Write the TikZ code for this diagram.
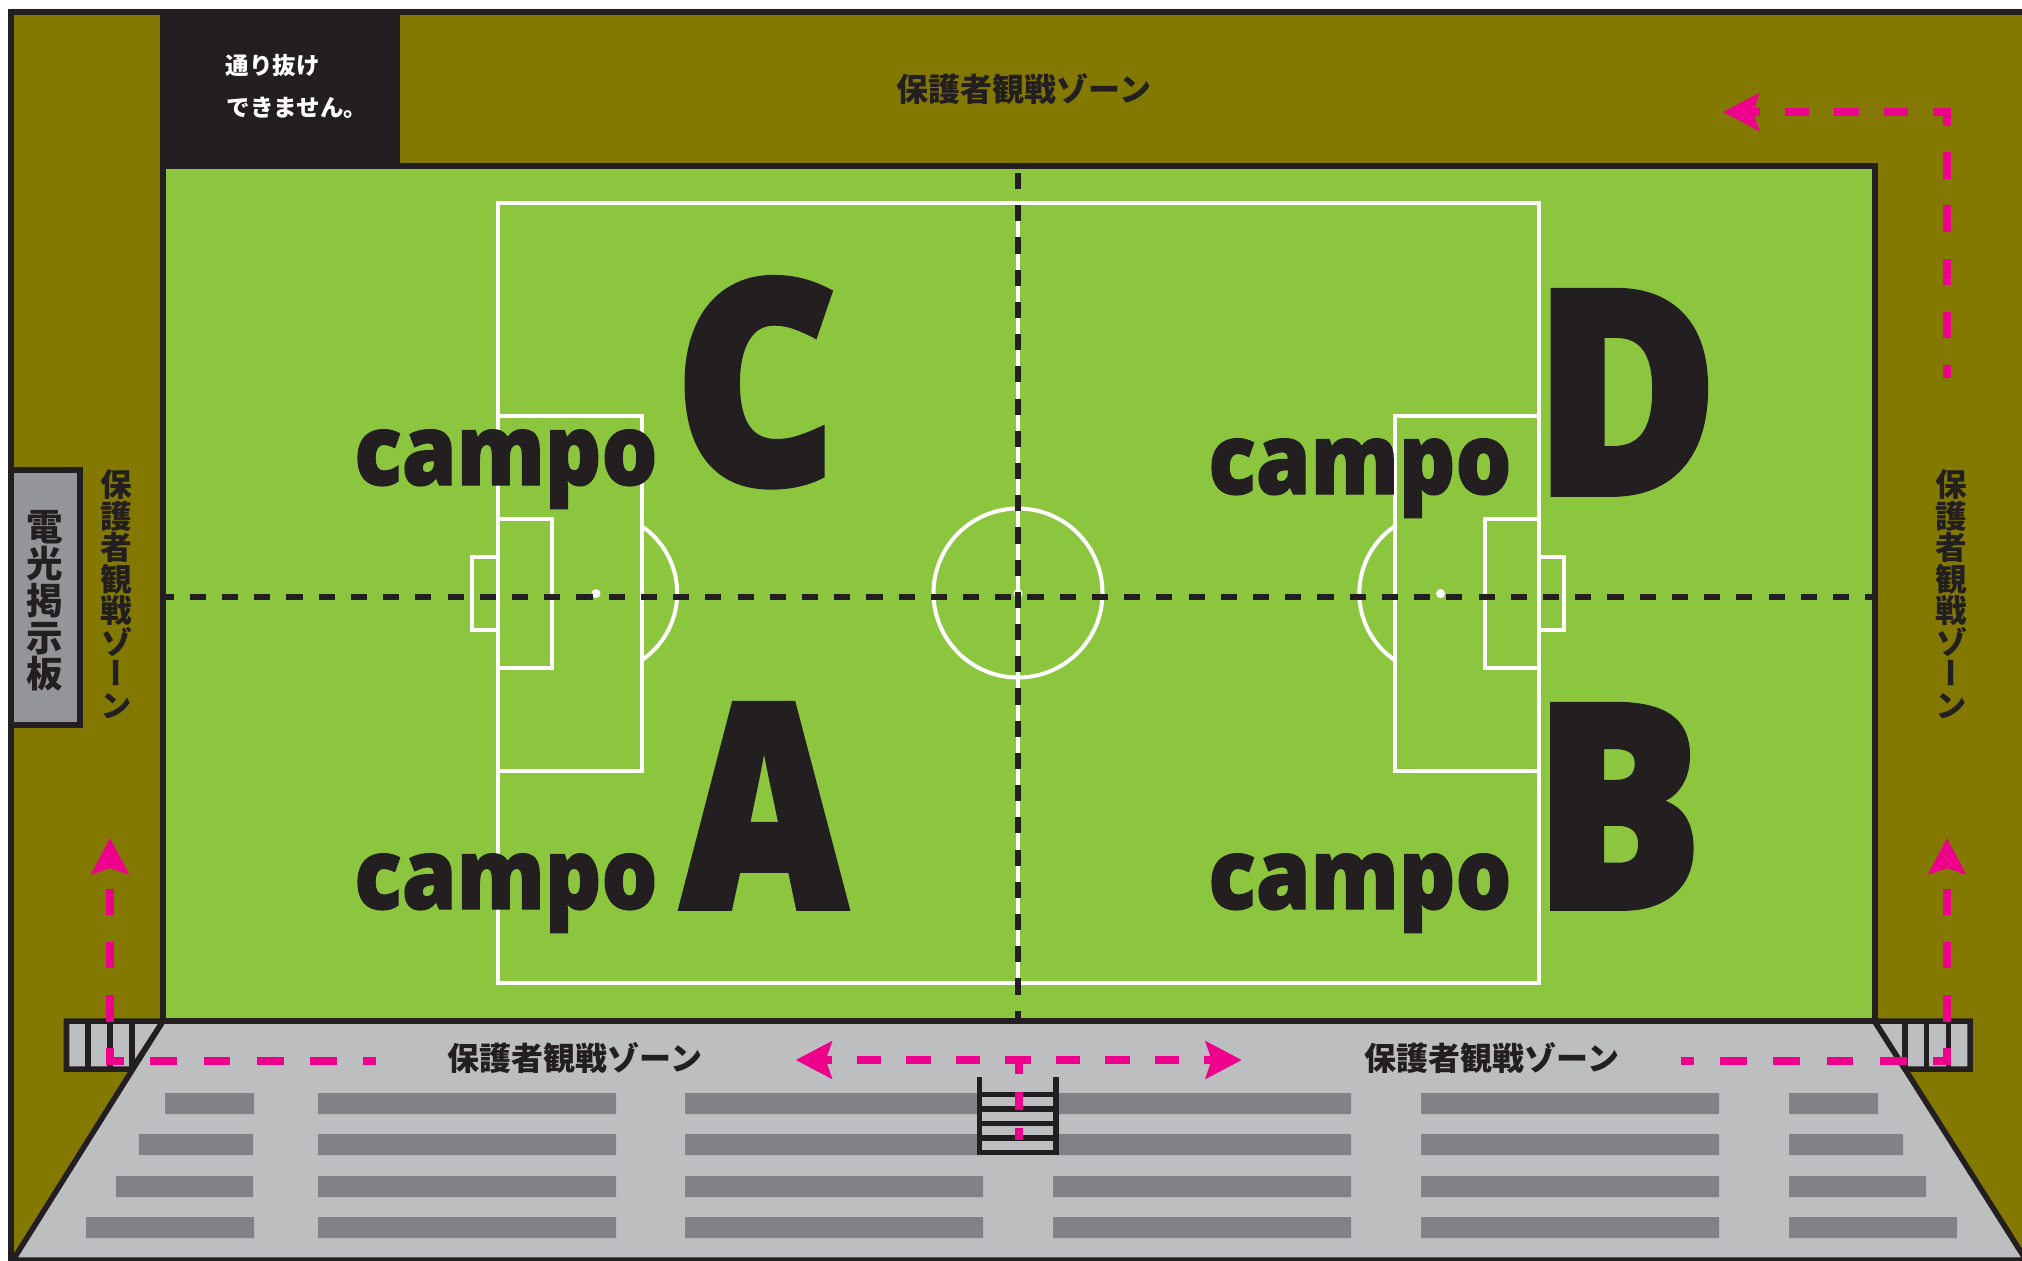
\documentclass[tikz,border=0pt]{standalone}
\usepackage{fontspec}
\usepackage{xcolor}
\usetikzlibrary{arrows.meta}
\newfontfamily\jpfont{Noto Sans CJK JP}
\newfontfamily\jpvert{Noto Sans CJK JP}[RawFeature={+vert}]
\newfontfamily\campofont{Open Sans Extrabold}[FakeStretch=0.895, FakeBold=1.2]
\newfontfamily\letterfont{Open Sans Extrabold}[FakeStretch=0.88, FakeBold=2]
\newfontfamily\letternarrow{Open Sans Extrabold}[FakeStretch=0.8, FakeBold=2]
\definecolor{inkblack}{HTML}{231F20}
\definecolor{zoneolive}{HTML}{837900}
\definecolor{fieldgreen}{HTML}{8CC63F}
\definecolor{standgray}{HTML}{BCBEC0}
\definecolor{seatgray}{HTML}{808285}
\definecolor{boardgray}{HTML}{939598}
\definecolor{routepink}{HTML}{EC008C}
\tikzset{
  wall/.style={draw=inkblack, line width=0.055cm},
  pitchline/.style={draw=white, line width=0.04cm},
  seat/.style={fill=seatgray},
  halfline/.style={draw=inkblack, line width=0.06cm, dash pattern=on 0.161cm off 0.161cm},
  route/.style={draw=routepink, line width=0.083cm},
  routehead/.style={-{Stealth[length=0.36cm, width=0.37cm, inset=0.06cm]}},
  zonelabel/.style={font=\jpfont\bfseries\fontsize{9.1}{9.1}\selectfont, text=inkblack, inner sep=0pt},
  zonevert/.style={font=\jpvert\bfseries\fontsize{9}{8.96}\selectfont, text=inkblack, inner sep=0pt, align=center},
  campolabel/.style={font=\campofont\fontsize{28}{28}\selectfont, text=inkblack, inner sep=0pt, anchor=base},
  courtletter/.style={font=\letterfont\fontsize{81}{81}\selectfont, text=inkblack, inner sep=0pt, anchor=base},
}
\begin{document}
\begin{tikzpicture}[x=0.01cm, y=-0.01cm]
    \useasboundingbox (0,0) rectangle (2022,1260);

    % Spectator zones
    \fill[zoneolive] (11,12) rectangle (2030,1262);
    \draw[inkblack, line width=0.06cm] (2030,12) -- (11,12) -- (11,1262);

    % No-through box
    \fill[inkblack] (160,9) rectangle (400,163);
    \node[font=\jpfont\bfseries\fontsize{6.7}{6.7}\selectfont, text=white, inner sep=0pt, anchor=west] (nopass1) at (225,66) {通り抜け};
    \node[font=\jpfont\bfseries\fontsize{6.7}{6.7}\selectfont, text=white, inner sep=0pt, anchor=west] (nopass2) at (226,108) {できません。};

    % Playing field
    \draw[wall, line width=0.06cm, fill=fieldgreen] (163,166) rectangle (1874.5,1021);

    % Pitch markings
    \draw[pitchline] (498,202.5) rectangle (1539,983);
    \draw[pitchline] (1018,202.5) -- (1018,983);
    \draw[pitchline] (1018,593) circle (84.5);
    % left goal end
    \draw[pitchline] (498,416) rectangle (641.5,771);
    \draw[pitchline] (498,519) rectangle (552,667.5);
    \draw[pitchline] (472,557) rectangle (498,629.5);
    \draw[pitchline] (641.5,526) arc (-56:56:81);
    \fill[white] (596,593.5) circle (4.5);
    % right goal end
    \draw[pitchline] (1395,416) rectangle (1539,771);
    \draw[pitchline] (1485,519) rectangle (1539,667.5);
    \draw[pitchline] (1539,557) rectangle (1564,629.5);
    \draw[pitchline] (1395,526) arc (236:124:81);
    \fill[white] (1440.5,593.5) circle (4.5);
    \fill[white] (1018,593.5) circle (4.5);

    % Dashed dividers
    \draw[halfline, dash phase=0.084cm] (166,597) -- (1872,597);
    \draw[halfline] (1018,173) -- (1018,1019);

    % Stand
    \draw[wall, fill=standgray] (163,1021) -- (1874.5,1021) -- (2026,1260) -- (13,1260) -- cycle;

    % Seats
    \fill[seat] (165,1093) rectangle (254,1114) (318,1093) rectangle (616,1114) (685,1093) rectangle (983,1114) (1053,1093) rectangle (1351,1114) (1421,1093) rectangle (1719,1114) (1789,1093) rectangle (1878,1114);
    \fill[seat] (139,1134) rectangle (253,1155) (318,1134) rectangle (616,1155) (685,1134) rectangle (983,1155) (1053,1134) rectangle (1351,1155) (1421,1134) rectangle (1719,1155) (1789,1134) rectangle (1903,1155);
    \fill[seat] (116,1176) rectangle (253,1197) (318,1176) rectangle (616,1197) (685,1176) rectangle (983,1197) (1053,1176) rectangle (1351,1197) (1421,1176) rectangle (1719,1197) (1789,1176) rectangle (1926,1197);
    \fill[seat] (86,1217) rectangle (254,1238) (318,1217) rectangle (616,1238) (685,1217) rectangle (983,1238) (1053,1217) rectangle (1351,1238) (1421,1217) rectangle (1719,1238) (1789,1217) rectangle (1957,1238);

    % Left gate
    \draw[wall, fill=standgray] (132,1069) -- (66.5,1069) -- (66.5,1021) -- (163,1021) -- cycle;
    \draw[wall] (88,1021) -- (88,1069);
    \draw[wall] (110,1021) -- (110,1069);
    \draw[wall] (132,1021) -- (132,1069);

    % Right gate
    \draw[wall, fill=standgray] (1905,1069) -- (1970,1069) -- (1970,1021) -- (1874.5,1021) -- cycle;
    \draw[wall] (1905,1021) -- (1905,1069);
    \draw[wall] (1926.7,1021) -- (1926.7,1069);
    \draw[wall] (1948.3,1021) -- (1948.3,1069);

    % Stairs
    \fill[standgray] (980,1095) rectangle (1056,1153);
    \draw[wall] (979.5,1077) -- (979.5,1152.7) -- (1056,1152.7) -- (1056,1077);
    \draw[wall] (979.5,1094.7) -- (1056,1094.7);
    \draw[wall] (979.5,1109) -- (1056,1109);
    \draw[wall] (979.5,1123.7) -- (1056,1123.7);
    \draw[wall] (979.5,1138) -- (1056,1138);

    % Scoreboard
    \draw[wall, line width=0.06cm, fill=boardgray] (11,470) rectangle (80,725);
    \node[font=\jpvert\bfseries\fontsize{10.4}{10.47}\selectfont, text=inkblack, inner sep=0pt, align=center] (board) at (44.5,601) {電\\光\\掲\\示\\板};

    % Zone labels
    \node[zonelabel] (zonetop) at (1024,89) {保護者観戦ゾーン};
    \node[zonelabel] (zoneleft) at (575,1058) {保護者観戦ゾーン};
    \node[zonelabel] (zoneright) at (1492,1058) {保護者観戦ゾーン};
    \node[zonevert] (zonewest) at (116,594) {保\\護\\者\\観\\戦\\ゾ\\ー\\ン};
    \node[zonevert] (zoneeast) at (1951,594) {保\\護\\者\\観\\戦\\ゾ\\ー\\ン};

    % Court names
    \node[campolabel] (campoC) at (506,485) {campo};
    \node[campolabel] (campoD) at (1360,494) {campo};
    \node[campolabel] (campoA) at (506,909) {campo};
    \node[campolabel] (campoB) at (1360,909) {campo};
    \node[courtletter] (letterC) at (756,484) {C};
    \node[courtletter] (letterD) at (1626,494) {D};
    \node[courtletter, font=\letternarrow\fontsize{81}{81}\selectfont] (letterA) at (764,908) {A};
    \node[courtletter] (letterB) at (1618,908) {B};

    % Walking routes
    \draw[route, routehead, dash pattern=on 0.266cm off 0.266cm, dash phase=0.14cm] (376,1061) -- (110,1061) -- (110,838);
    \draw[route, routehead, dash pattern=on 0.266cm off 0.266cm, dash phase=0.14cm] (1681,1061) -- (1947,1061) -- (1947,838);
    \draw[route, dash pattern=on 0.266cm off 0.266cm, dash phase=0.14cm] (1947,377.7) -- (1947,108);
    \draw[route, routehead, dash pattern=on 0.247cm off 0.247cm, dash phase=0.067cm] (1951,112) -- (1723,112);
    \draw[route, routehead, dash pattern=on 0.247cm off 0.247cm, dash phase=0.117cm] (1018,1060) -- (795.7,1060);
    \draw[route, routehead, dash pattern=on 0.247cm off 0.247cm, dash phase=0.117cm] (1018,1060) -- (1241.7,1060);
    \draw[route, dash pattern=on 0.18cm off 0.18cm] (1019,1056) -- (1019,1140);
\end{tikzpicture}
\end{document}
